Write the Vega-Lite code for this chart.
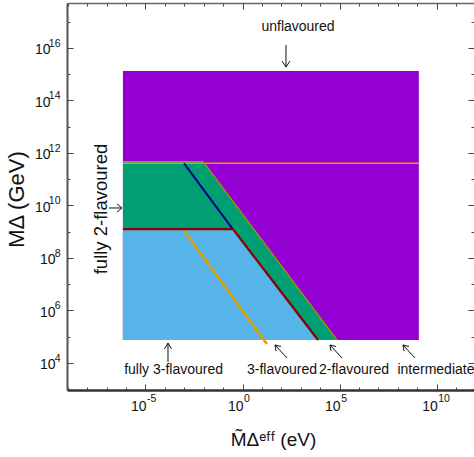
{
  "$schema": "https://vega.github.io/schema/vega-lite/v6.json",
  "width": 407,
  "height": 387,
  "autosize": "none",
  "padding": {"left": 67, "top": 3, "right": 0, "bottom": 67},
  "background": "white",
  "config": {
    "view": {"stroke": null},
    "axis": {"grid": false, "labelFont": "Liberation Sans", "titleFont": "Liberation Sans", "labelColor": "#111", "titleColor": "#111", "titleFontWeight": "normal", "tickColor": "#444", "domainColor": "#444", "labelFlush": false, "labelOverlap": false}
  },
  "datasets": {
    "purple": [{"x": 6.9e-7, "x2": 1.2e9, "y": 7.5e4, "y2": 1.3e15}],
    "green": [
      {"x": 6.9e-7, "y": 4.7e11, "y2": 7.5e4},
      {"x": 9.1e-3, "y": 4.7e11, "y2": 7.5e4},
      {"x": 7.2e4, "y": 7.5e4, "y2": 7.5e4}
    ],
    "blue": [
      {"x": 6.9e-7, "y": 1.26e9, "y2": 7.5e4},
      {"x": 0.32, "y": 1.26e9, "y2": 7.5e4},
      {"x": 7.7e3, "y": 7.5e4, "y2": 7.5e4}
    ],
    "lines": [
      {"series": "oliveTop", "x": 6.9e-7, "y": 4.7e11},
      {"series": "oliveTop", "x": 9.1e-3, "y": 4.7e11},
      {"series": "orangeH", "x": 6.9e-7, "y": 4.0e11},
      {"series": "orangeH", "x": 1.2e9, "y": 4.0e11},
      {"series": "olive", "x": 9.1e-3, "y": 4.7e11},
      {"series": "olive", "x": 7.2e4, "y": 7.5e4},
      {"series": "navy", "x": 9.7e-4, "y": 4.0e11},
      {"series": "navy", "x": 0.3, "y": 1.3e9},
      {"series": "darkred", "x": 6.9e-7, "y": 1.26e9},
      {"series": "darkred", "x": 0.32, "y": 1.26e9},
      {"series": "darkred", "x": 7.7e3, "y": 7.5e4},
      {"series": "orangeS", "x": 9.7e-4, "y": 1.07e9},
      {"series": "orangeS", "x": 18, "y": 5.3e4}
    ],
    "labels": [
      {"x": 716, "y": 6.3e16, "text": "unflavoured"},
      {"x": 2.8e-4, "y": 5.4e3, "text": "fully 3-flavoured"},
      {"x": 107, "y": 5.4e3, "text": "3-flavoured"},
      {"x": 5.5e5, "y": 5.4e3, "text": "2-flavoured"},
      {"x": 9.1e9, "y": 5.4e3, "text": "intermediate"}
    ],
    "vlabels": [
      {"x": 5.1e-8, "y": 7.3e9, "text": "fully 2-flavoured"}
    ],
    "arrows": [
      {"seg": "a1s", "x": 172.6, "y": 1.28e16}, {"seg": "a1s", "x": 172.6, "y": 1.86e15},
      {"seg": "a1l", "x": 172.6, "y": 1.86e15}, {"seg": "a1l", "x": 107.4, "y": 3.15e15},
      {"seg": "a1r", "x": 172.6, "y": 1.86e15}, {"seg": "a1r", "x": 277.3, "y": 3.15e15},
      {"seg": "a2s", "x": 1.32e-7, "y": 7.96e9}, {"seg": "a2s", "x": 6.18e-7, "y": 7.96e9},
      {"seg": "a2u", "x": 6.18e-7, "y": 7.96e9}, {"seg": "a2u", "x": 3.42e-7, "y": 1.13e10},
      {"seg": "a2d", "x": 6.18e-7, "y": 7.96e9}, {"seg": "a2d", "x": 3.42e-7, "y": 5.6e9},
      {"seg": "a3s", "x": 1.445e-4, "y": 5.75e4}, {"seg": "a3s", "x": 1.445e-4, "y": 1.087e4},
      {"seg": "a3l", "x": 1.445e-4, "y": 5.75e4}, {"seg": "a3l", "x": 9.55e-5, "y": 3.4e4},
      {"seg": "a3r", "x": 1.445e-4, "y": 5.75e4}, {"seg": "a3r", "x": 2.19e-4, "y": 3.4e4},
      {"seg": "a4s", "x": 46.9, "y": 4.83e4}, {"seg": "a4s", "x": 194.5, "y": 1.545e4},
      {"seg": "a4h", "x": 46.9, "y": 4.83e4}, {"seg": "a4h", "x": 95.5, "y": 4.24e4},
      {"seg": "a4v", "x": 46.9, "y": 4.83e4}, {"seg": "a4v", "x": 52.7, "y": 2.85e4},
      {"seg": "a5s", "x": 3.18e4, "y": 4.83e4}, {"seg": "a5s", "x": 1.32e5, "y": 1.545e4},
      {"seg": "a5h", "x": 3.18e4, "y": 4.83e4}, {"seg": "a5h", "x": 6.49e4, "y": 4.24e4},
      {"seg": "a5v", "x": 3.18e4, "y": 4.83e4}, {"seg": "a5v", "x": 3.59e4, "y": 2.85e4},
      {"seg": "a6s", "x": 1.83e8, "y": 4.83e4}, {"seg": "a6s", "x": 7.6e8, "y": 1.545e4},
      {"seg": "a6h", "x": 1.83e8, "y": 4.83e4}, {"seg": "a6h", "x": 3.73e8, "y": 4.24e4},
      {"seg": "a6v", "x": 1.83e8, "y": 4.83e4}, {"seg": "a6v", "x": 2.06e8, "y": 2.85e4}
    ]
  },
  "layer": [
    {
      "data": {"name": "purple"},
      "mark": {"type": "rect", "color": "#9400D3"},
      "encoding": {
        "x": {"field": "x", "type": "quantitative", "scale": {"type": "log", "domain": [9.1e-10, 8.3e11], "nice": false},
          "axis": {"orient": "bottom", "values": [1e-9,1e-8,1e-7,1e-6,1e-5,1e-4,1e-3,1e-2,1e-1,1,10,100,1000,1e4,1e5,1e6,1e7,1e8,1e9,1e10,1e11],
            "labelExpr": "indexof([-5,0,5,10], round(log(datum.value)/LN10)) >= 0 ? '10' : ''",
            "tickSize": -3, "labelPadding": 12, "labelFontSize": 14, "labelAlign": "right", "labelOffset": 0.5,
            "domainWidth": 2.5, "domainColor": "#333",
            "title": "M̃Δᵉᶠᶠ (eV)", "titleFontSize": 19, "titleX": 206, "titleY": 55, "titleBaseline": "alphabetic", "titleAnchor": "middle", "titleAlign": "center"}},
        "x2": {"field": "x2"},
        "y": {"field": "y", "type": "quantitative", "scale": {"type": "log", "domain": [933, 5.1e17], "nice": false},
          "axis": {"orient": "left", "values": [1e3,1e4,1e5,1e6,1e7,1e8,1e9,1e10,1e11,1e12,1e13,1e14,1e15,1e16,1e17],
            "labelExpr": "indexof([4,6,8,10,12,14,16], round(log(datum.value)/LN10)) >= 0 ? '10' : ''",
            "tickSize": -3, "labelPadding": {"condition": {"test": "datum.value > 1e9", "value": 20}, "value": 15},
            "labelFontSize": 14, "labelAlign": "right", "labelBaseline": "middle", "labelOffset": 2,
            "domainWidth": 2, "domainColor": "#555",
            "title": "MΔ (GeV)", "titleFontSize": 22, "titleAngle": 270, "titleX": -44, "titleY": 196, "titleBaseline": "alphabetic", "titleAlign": "center"}},
        "y2": {"field": "y2"}
      }
    },
    {
      "data": {"name": "green"},
      "mark": {"type": "area", "color": "#009E73", "interpolate": "linear"},
      "encoding": {
        "x": {"field": "x", "type": "quantitative", "scale": {"type": "log", "domain": [9.1e-10, 8.3e11], "nice": false}, "axis": null},
        "y": {"field": "y", "type": "quantitative", "scale": {"type": "log", "domain": [933, 5.1e17], "nice": false}, "axis": null, "stack": null},
        "y2": {"field": "y2"}
      }
    },
    {
      "data": {"name": "blue"},
      "mark": {"type": "area", "color": "#56B4E9", "interpolate": "linear"},
      "encoding": {
        "x": {"field": "x", "type": "quantitative", "scale": {"type": "log", "domain": [9.1e-10, 8.3e11], "nice": false}, "axis": null},
        "y": {"field": "y", "type": "quantitative", "scale": {"type": "log", "domain": [933, 5.1e17], "nice": false}, "axis": null, "stack": null},
        "y2": {"field": "y2"}
      }
    },
    {
      "data": {"name": "lines"},
      "mark": {"type": "line", "strokeCap": "butt"},
      "encoding": {
        "x": {"field": "x", "type": "quantitative", "scale": {"type": "log", "domain": [9.1e-10, 8.3e11], "nice": false}, "axis": null},
        "y": {"field": "y", "type": "quantitative", "scale": {"type": "log", "domain": [933, 5.1e17], "nice": false}, "axis": null},
        "color": {"field": "series", "type": "nominal", "legend": null,
          "scale": {"domain": ["oliveTop", "orangeH", "olive", "navy", "darkred", "orangeS"], "range": ["#6f9a6a", "#E69F00", "#8C8C14", "#00008B", "#8B0000", "#E69F00"]}},
        "strokeWidth": {"field": "series", "type": "nominal", "legend": null,
          "scale": {"domain": ["oliveTop", "orangeH", "olive", "navy", "darkred", "orangeS"], "range": [1.2, 2.5, 2.5, 2, 2.5, 2]}}
      }
    },
    {
      "data": {"name": "labels"},
      "mark": {"type": "text", "font": "Liberation Sans", "fontSize": 14, "color": "#111", "align": "center", "baseline": "middle"},
      "encoding": {
        "x": {"field": "x", "type": "quantitative", "scale": {"type": "log", "domain": [9.1e-10, 8.3e11], "nice": false}, "axis": null},
        "y": {"field": "y", "type": "quantitative", "scale": {"type": "log", "domain": [933, 5.1e17], "nice": false}, "axis": null},
        "text": {"field": "text"}
      }
    },
    {
      "data": {"name": "vlabels"},
      "mark": {"type": "text", "font": "Liberation Sans", "fontSize": 18.5, "color": "#111", "align": "center", "baseline": "middle", "angle": 270},
      "encoding": {
        "x": {"field": "x", "type": "quantitative", "scale": {"type": "log", "domain": [9.1e-10, 8.3e11], "nice": false}, "axis": null},
        "y": {"field": "y", "type": "quantitative", "scale": {"type": "log", "domain": [933, 5.1e17], "nice": false}, "axis": null},
        "text": {"field": "text"}
      }
    },
    {
      "data": {"name": "arrows"},
      "mark": {"type": "line", "color": "#111", "strokeWidth": 1},
      "encoding": {
        "x": {"field": "x", "type": "quantitative", "scale": {"type": "log", "domain": [9.1e-10, 8.3e11], "nice": false}, "axis": null},
        "y": {"field": "y", "type": "quantitative", "scale": {"type": "log", "domain": [933, 5.1e17], "nice": false}, "axis": null},
        "detail": {"field": "seg", "type": "nominal"}
      }
    },
    {
      "data": {"name": "purple"},
      "mark": {"type": "rect", "opacity": 0},
      "encoding": {
        "x": {"field": "x", "type": "quantitative", "scale": {"type": "log", "domain": [9.1e-10, 8.3e11], "nice": false},
          "axis": {"orient": "bottom", "values": [1e-5, 1, 1e5, 1e10], "labelExpr": "'' + round(log(datum.value)/LN10)",
            "tickSize": -6, "domain": false, "labelPadding": 9, "labelFontSize": 10.5, "labelAlign": "left", "labelOffset": 1, "title": null}},
        "x2": {"field": "x2"},
        "y": {"field": "y", "type": "quantitative", "scale": {"type": "log", "domain": [933, 5.1e17], "nice": false},
          "axis": {"orient": "left", "values": [1e4,1e6,1e8,1e10,1e12,1e14,1e16], "labelExpr": "'' + round(log(datum.value)/LN10)",
            "tickSize": -6, "domain": false, "labelPadding": 13, "labelFontSize": 10.5, "labelAlign": "right", "labelBaseline": "middle", "labelOffset": -4.5, "title": null}},
        "y2": {"field": "y2"}
      }
    },
    {
      "data": {"name": "purple"},
      "mark": {"type": "rect", "opacity": 0},
      "encoding": {
        "x": {"field": "x", "type": "quantitative", "scale": {"type": "log", "domain": [9.1e-10, 8.3e11], "nice": false},
          "axis": {"orient": "top", "values": [1e-9,1e-8,1e-7,1e-6,1e-5,1e-4,1e-3,1e-2,1e-1,1,10,100,1000,1e4,1e5,1e6,1e7,1e8,1e9,1e10,1e11], "labels": false, "tickSize": -3, "domainWidth": 1.5, "domainColor": "#666", "title": null}},
        "x2": {"field": "x2"},
        "y": {"field": "y", "type": "quantitative", "scale": {"type": "log", "domain": [933, 5.1e17], "nice": false},
          "axis": {"orient": "right", "values": [1e3,1e4,1e5,1e6,1e7,1e8,1e9,1e10,1e11,1e12,1e13,1e14,1e15,1e16,1e17], "labels": false, "tickSize": -3, "domain": false, "title": null}},
        "y2": {"field": "y2"}
      }
    },
    {
      "data": {"name": "purple"},
      "mark": {"type": "rect", "opacity": 0},
      "encoding": {
        "x": {"field": "x", "type": "quantitative", "scale": {"type": "log", "domain": [9.1e-10, 8.3e11], "nice": false},
          "axis": {"orient": "top", "values": [1e-5, 1, 1e5, 1e10], "labels": false, "tickSize": -6, "domain": false, "title": null}},
        "x2": {"field": "x2"},
        "y": {"field": "y", "type": "quantitative", "scale": {"type": "log", "domain": [933, 5.1e17], "nice": false},
          "axis": {"orient": "right", "values": [1e4,1e6,1e8,1e10,1e12,1e14,1e16], "labels": false, "tickSize": -6, "domain": false, "title": null}},
        "y2": {"field": "y2"}
      }
    }
  ],
  "resolve": {"axis": {"x": "independent", "y": "independent"}}
}
